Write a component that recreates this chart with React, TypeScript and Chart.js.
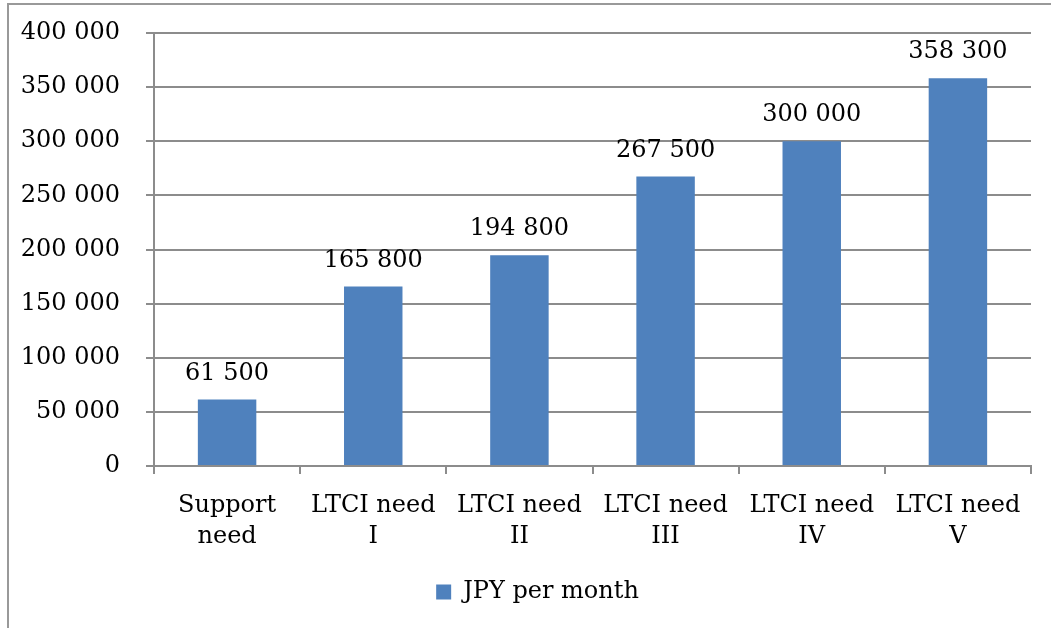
import React, { useEffect, useRef } from "react";
import { Chart, registerables } from "chart.js";

Chart.register(...registerables);

const categories: string[][] = [
  ["Support", "need"],
  ["LTCI need", "I"],
  ["LTCI need", "II"],
  ["LTCI need", "III"],
  ["LTCI need", "IV"],
  ["LTCI need", "V"],
];
const values: number[] = [61500, 165800, 194800, 267500, 300000, 358300];
const seriesName = "JPY per month";
const yMax = 400000;
const yStep = 50000;

const FONT = "'DejaVu Serif', serif";
const GRID = "#8c8c8c";
const BAR = "#4F81BD";
const FS = 24;

const fmt = (v: number) =>
  String(Math.round(v)).replace(/\B(?=(\d{3})+(?!\d))/g, " ");

const valueLabels = {
  id: "valueLabels",
  afterLayout(chart: any) {
    const lg = chart.legend;
    if (lg) {
      lg.left += 22;
      lg.right += 22;
    }
  },
  afterDatasetsDraw(chart: any) {
    const ctx = chart.ctx;
    const meta = chart.getDatasetMeta(0);
    ctx.save();
    ctx.font = `${FS}px ${FONT}`;
    ctx.fillStyle = "#000";
    ctx.textAlign = "center";
    ctx.textBaseline = "middle";
    meta.data.forEach((bar: any, i: number) => {
      ctx.fillText(fmt(values[i]), bar.x, bar.y - 26);
    });
    ctx.restore();
  },
};

export default function App() {
  const ref = useRef<HTMLCanvasElement | null>(null);
  useEffect(() => {
    if (!ref.current) return;
    const chart = new Chart(ref.current, {
      type: "bar",
      data: {
        labels: categories,
        datasets: [
          {
            label: seriesName,
            data: values,
            backgroundColor: BAR,
            borderWidth: 0,
            barPercentage: 0.4,
            categoryPercentage: 1,
          },
        ],
      },
      options: {
        animation: false,
        responsive: false,
        maintainAspectRatio: false,
        layout: { padding: { top: 33, right: 20, left: 0, bottom: 14 } },
        plugins: {
          tooltip: { enabled: false },
          legend: {
            position: "bottom",
            labels: {
              color: "#000",
              font: { family: FONT, size: FS },
              boxWidth: 15,
              boxHeight: 15,
              padding: 10,
            },
          },
        },
        scales: {
          x: {
            grid: {
              offset: true,
              drawOnChartArea: false,
              drawTicks: true,
              tickLength: 8,
              color: GRID,
              lineWidth: 2,
            },
            border: { color: GRID, width: 2 },
            ticks: {
              color: "#000",
              font: { family: FONT, size: FS, lineHeight: 1.3 },
              padding: 16,
              maxRotation: 0,
              autoSkip: false,
            },
            afterFit(scale: any) {
              scale.height = 104;
            },
          },
          y: {
            min: 0,
            max: yMax,
            grid: {
              color: GRID,
              lineWidth: 2,
              tickLength: 8,
            },
            border: { color: GRID, width: 2 },
            ticks: {
              stepSize: yStep,
              color: "#000",
              font: { family: FONT, size: FS },
              padding: 26,
              callback: (v: any) => fmt(Number(v)),
            },
            afterFit(scale: any) {
              scale.width = 154;
              scale.paddingTop = 0;
              scale.paddingBottom = 0;
            },
          },
        },
      },
      plugins: [valueLabels],
    });
    return () => chart.destroy();
  }, []);

  return (
    <div
      style={{
        position: "fixed",
        left: 0,
        top: 0,
        width: 1051,
        height: 628,
        background: "#fff",
        overflow: "hidden",
      }}
    >
      <div
        style={{
          position: "absolute",
          left: 7,
          top: 3,
          right: -10,
          bottom: -10,
          borderLeft: "2px solid #999",
          borderTop: "2px solid #999",
        }}
      />
      <canvas
        ref={ref}
        width={1051}
        height={628}
        style={{ position: "absolute", left: 0, top: 0 }}
      />
    </div>
  );
}
